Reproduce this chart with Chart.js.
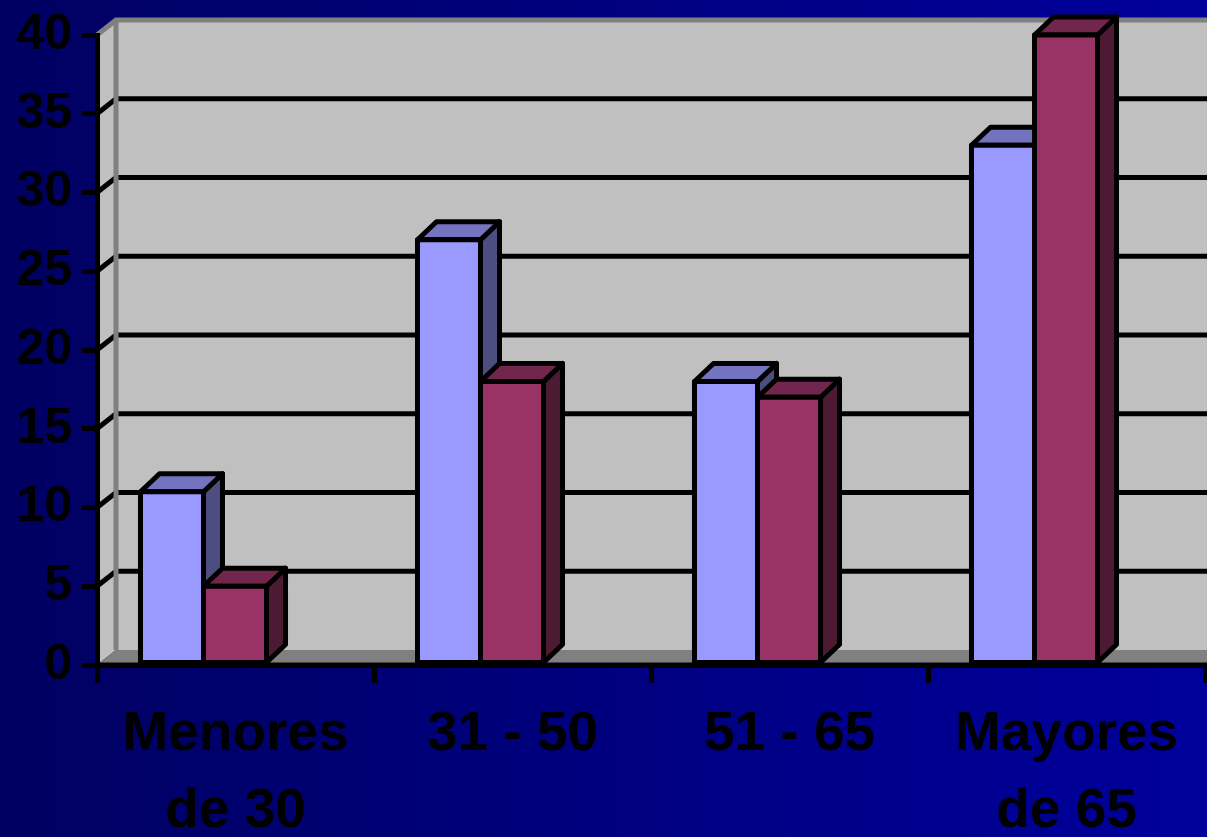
<!DOCTYPE html>
<html lang="es">
<head>
<meta charset="UTF-8">
<title>Edades</title>
<script src="https://cdn.jsdelivr.net/npm/chart.js"></script>
<style>
  html, body { margin: 0; padding: 0; background: #000080; }
</style>
</head>
<body>
<canvas id="chart" width="1207" height="837"></canvas>
<script>
// datos
const categorias = [['Menores', 'de 30'], ['31 - 50'], ['51 - 65'], ['Mayores', 'de 65']];
const serieAzul = [11, 27, 18, 33];
const serieGrana = [5, 18, 17, 40];
const ticksY = [0, 5, 10, 15, 20, 25, 30, 35, 40];

// profundidad de paredes y barras (efecto 3D)
const DX = 19, DY = 15;
const BX = 19, BY = 18;
const SHIFT = -32;

const colores = [
  { frente: '#9999ff', techo: '#7373bf', lado: '#4d4d80' },
  { frente: '#993366', techo: '#73264d', lado: '#4d1a33' }
];

function poly(ctx, pts, fill) {
  ctx.beginPath();
  ctx.moveTo(pts[0][0], pts[0][1]);
  for (let i = 1; i < pts.length; i++) ctx.lineTo(pts[i][0], pts[i][1]);
  ctx.closePath();
  if (fill) { ctx.fillStyle = fill; ctx.fill(); }
}

const fondo3d = {
  id: 'fondo3d',
  beforeDraw(chart) {
    const { ctx, chartArea: a, scales: { y } } = chart;
    const w = chart.width, h = chart.height;
    const L = a.left, T = a.top, B = a.bottom;
    ctx.save();
    const g = ctx.createLinearGradient(0, 0, w, 0);
    g.addColorStop(0, '#000062');
    g.addColorStop(1, '#00009c');
    ctx.fillStyle = g;
    ctx.fillRect(0, 0, w, h);

    // pared del fondo, pared lateral y suelo
    ctx.fillStyle = '#c0c0c0';
    ctx.fillRect(L + DX, T - DY, w - (L + DX), B - T);
    poly(ctx, [[L, B], [L, T], [L + DX, T - DY], [L + DX, B - DY]], '#c0c0c0');
    poly(ctx, [[L, B], [L + DX, B - DY], [w, B - DY], [w, B]], '#808080');

    // lineas de division
    ctx.strokeStyle = '#000';
    ctx.lineWidth = 5;
    ticksY.forEach(v => {
      if (v === 0 || v === y.max) return;
      const yy = y.getPixelForValue(v);
      ctx.beginPath();
      ctx.moveTo(L, yy);
      ctx.lineTo(L + DX, yy - DY);
      ctx.lineTo(w, yy - DY);
      ctx.stroke();
    });

    // bordes grises de las paredes
    ctx.strokeStyle = '#808080';
    ctx.lineWidth = 5;
    ctx.beginPath();
    ctx.moveTo(L, T);
    ctx.lineTo(L + DX, T - DY);
    ctx.lineTo(w, T - DY);
    ctx.moveTo(L + DX, T - DY);
    ctx.lineTo(L + DX, B - DY);
    ctx.stroke();
    // borde negro del suelo hasta el final
    ctx.strokeStyle = '#000';
    ctx.beginPath();
    ctx.moveTo(L, B);
    ctx.lineTo(w, B);
    ctx.stroke();
    ctx.restore();
  },
  beforeDatasetsDraw(chart) {
    chart.ctx.save();
    chart.ctx.translate(SHIFT, 0);
  },
  afterDatasetsDraw(chart) {
    const ctx = chart.ctx;
    ctx.lineWidth = 5;
    ctx.lineJoin = 'round';
    ctx.strokeStyle = '#000';
    chart.data.datasets.forEach((ds, i) => {
      const c = colores[i];
      chart.getDatasetMeta(i).data.forEach(bar => {
        const { x, y, base, width } = bar.getProps(['x', 'y', 'base', 'width'], true);
        const l = x - width / 2, r = x + width / 2;
        const lado = [[r, y], [r + BX, y - BY], [r + BX, base - BY], [r, base]];
        const techo = [[l, y], [l + BX, y - BY], [r + BX, y - BY], [r, y]];
        poly(ctx, lado, c.lado); ctx.stroke();
        poly(ctx, techo, c.techo); ctx.stroke();
        poly(ctx, [[l, y], [r, y], [r, base], [l, base]], c.frente); ctx.stroke();
      });
    });
    ctx.restore();
  }
};

const familia = "'Liberation Sans', Arial, sans-serif";

new Chart(document.getElementById('chart'), {
  type: 'bar',
  data: {
    labels: categorias,
    datasets: [
      { data: serieAzul, backgroundColor: colores[0].frente, borderWidth: 0, clip: false },
      { data: serieGrana, backgroundColor: colores[1].frente, borderWidth: 0, clip: false }
    ]
  },
  options: {
    responsive: false,
    animation: false,
    categoryPercentage: 0.455,
    barPercentage: 1,
    layout: { padding: { top: 35, right: 2, left: 0, bottom: 0 } },
    plugins: { legend: { display: false }, tooltip: { enabled: false } },
    scales: {
      x: {
        grid: { drawOnChartArea: false, tickLength: 18, color: '#000', lineWidth: 5, offset: true },
        border: { color: '#000', width: 5 },
        ticks: {
          color: '#000', padding: 13, maxRotation: 0, autoSkip: false,
          font: { family: familia, weight: 'bold', size: 55, lineHeight: 1.4 }
        },
        afterFit: s => { s.height = 172; s.paddingLeft = 0; s.paddingRight = 0; }
      },
      y: {
        min: 0, max: 40,
        afterBuildTicks: s => { s.ticks = ticksY.map(v => ({ value: v })); },
        grid: { drawOnChartArea: false, tickLength: 15, color: '#000', lineWidth: 5 },
        border: { color: '#000', width: 5 },
        ticks: { color: '#000', padding: 10, font: { family: familia, weight: 'bold', size: 50 } },
        afterFit: s => { s.width = 97; s.paddingTop = 0; s.paddingBottom = 0; }
      }
    }
  },
  plugins: [fondo3d]
});
</script>
</body>
</html>
